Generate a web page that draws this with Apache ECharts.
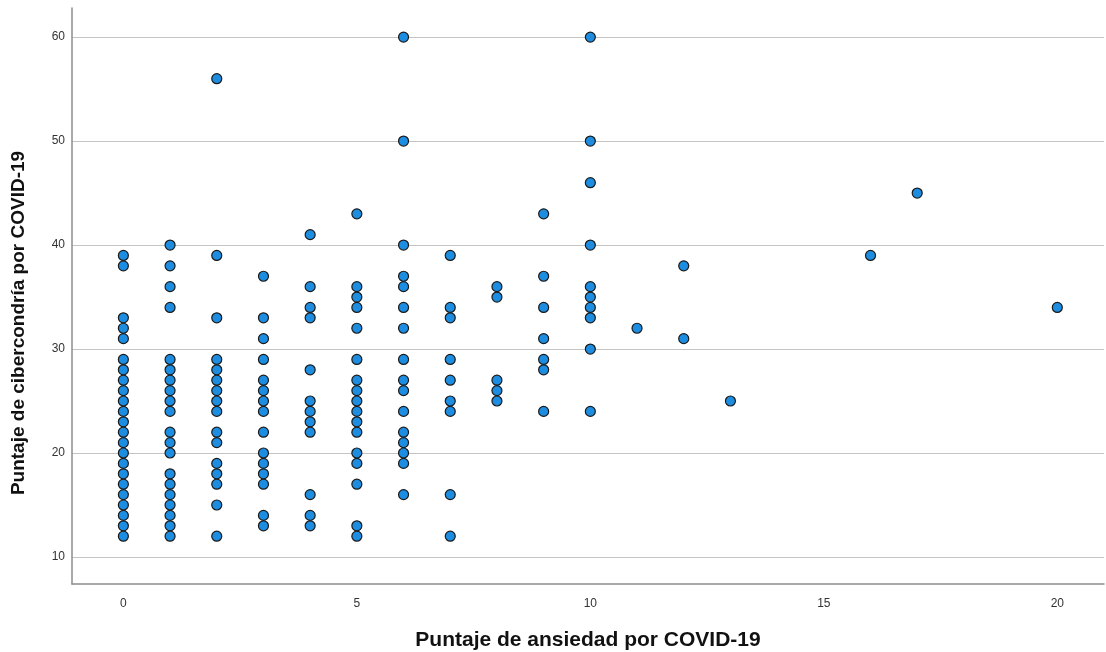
<!DOCTYPE html>
<html>
<head>
<meta charset="utf-8">
<script src="https://cdn.jsdelivr.net/npm/echarts@6/dist/echarts.min.js"></script>
<style>html,body{margin:0;padding:0;background:#fff}#c{width:1106px;height:652px}</style>
</head>
<body>
<div id="c"></div>
<script>
// Ansiedad (x) -> cibercondría (y) values
const anxietyScores = [0, 1, 2, 3, 4, 5, 6, 7, 8, 9, 10, 11, 12, 13, 16, 17, 20];
const cyber0 = [39, 38, 33, 32, 31, 29, 28, 27, 26, 25, 24, 23, 22, 21, 20, 19, 18, 17, 16, 15, 14, 13, 12];
const cyber1 = [40, 38, 36, 34, 29, 28, 27, 26, 25, 24, 22, 21, 20, 18, 17, 16, 15, 14, 13, 12];
const cyber2 = [56, 39, 33, 29, 28, 27, 26, 25, 24, 22, 21, 19, 18, 17, 15, 12];
const cyber3 = [37, 33, 31, 29, 27, 26, 25, 24, 22, 20, 19, 18, 17, 14, 13];
const cyber4 = [41, 36, 34, 33, 28, 25, 24, 23, 22, 16, 14, 13];
const cyber5 = [43, 36, 35, 34, 32, 29, 27, 26, 25, 24, 23, 22, 20, 19, 17, 13, 12];
const cyber6 = [60, 50, 40, 37, 36, 34, 32, 29, 27, 26, 24, 22, 21, 20, 19, 16];
const cyber7 = [39, 34, 33, 29, 27, 25, 24, 16, 12];
const cyber8 = [36, 35, 27, 26, 25];
const cyber9 = [43, 37, 34, 31, 29, 28, 24];
const cyber10 = [60, 50, 46, 40, 36, 35, 34, 33, 30, 24];
const cyber11 = [32];
const cyber12 = [38, 31];
const cyber13 = [25];
const cyber16 = [39];
const cyber17 = [45];
const cyber20 = [34];
const cyberByScore = [cyber0, cyber1, cyber2, cyber3, cyber4, cyber5, cyber6, cyber7, cyber8, cyber9, cyber10, cyber11, cyber12, cyber13, cyber16, cyber17, cyber20];
const xTicks = [0, 5, 10, 15, 20];
const yTicks = [10, 20, 30, 40, 50, 60];

const points = [];
anxietyScores.forEach((x, i) => cyberByScore[i].forEach(y => points.push([x, y])));

const chart = echarts.init(document.getElementById('c'), null, {renderer: 'canvas'});
chart.setOption({
  animation: false,
  backgroundColor: '#ffffff',
  grid: {left: 72, right: 2, top: 8, bottom: 68, containLabel: false, outerBoundsMode: 'none'},
  xAxis: {
    type: 'value', min: -1.1, max: 21,
    name: 'Puntaje de ansiedad por COVID-19',
    nameLocation: 'middle', nameGap: 46,
    nameTextStyle: {fontFamily: 'Liberation Sans, Arial', fontSize: 21, fontWeight: 'bold', color: '#111'},
    axisLine: {show: true, onZero: false, lineStyle: {color: '#8c8c8c', width: 1.5}},
    axisTick: {show: false, customValues: xTicks},
    axisLabel: {customValues: xTicks, margin: 14, fontFamily: 'Liberation Sans, Arial', fontSize: 12, color: '#333'},
    splitLine: {show: false}
  },
  yAxis: {
    type: 'value', min: 7.4, max: 62.8,
    name: 'Puntaje de cibercondría por COVID-19',
    nameLocation: 'middle', nameGap: 44, nameRotate: 90,
    nameTextStyle: {fontFamily: 'Liberation Sans, Arial', fontSize: 19, fontWeight: 'bold', color: '#111', padding: [0, 54, 0, 0]},
    axisLine: {show: true, onZero: false, lineStyle: {color: '#8c8c8c', width: 1.5}},
    axisTick: {show: false, customValues: yTicks},
    axisLabel: {customValues: yTicks, margin: 7, fontFamily: 'Liberation Sans, Arial', fontSize: 12, color: '#333'},
    splitLine: {show: true, lineStyle: {color: '#c4c4c4', width: 1.2}}
  },
  series: [{
    type: 'scatter',
    data: points,
    symbol: 'circle',
    symbolSize: 10,
    itemStyle: {color: '#1c8de0', borderColor: '#1a1a1a', borderWidth: 1.2, opacity: 1}
  }]
});
</script>
</body>
</html>
